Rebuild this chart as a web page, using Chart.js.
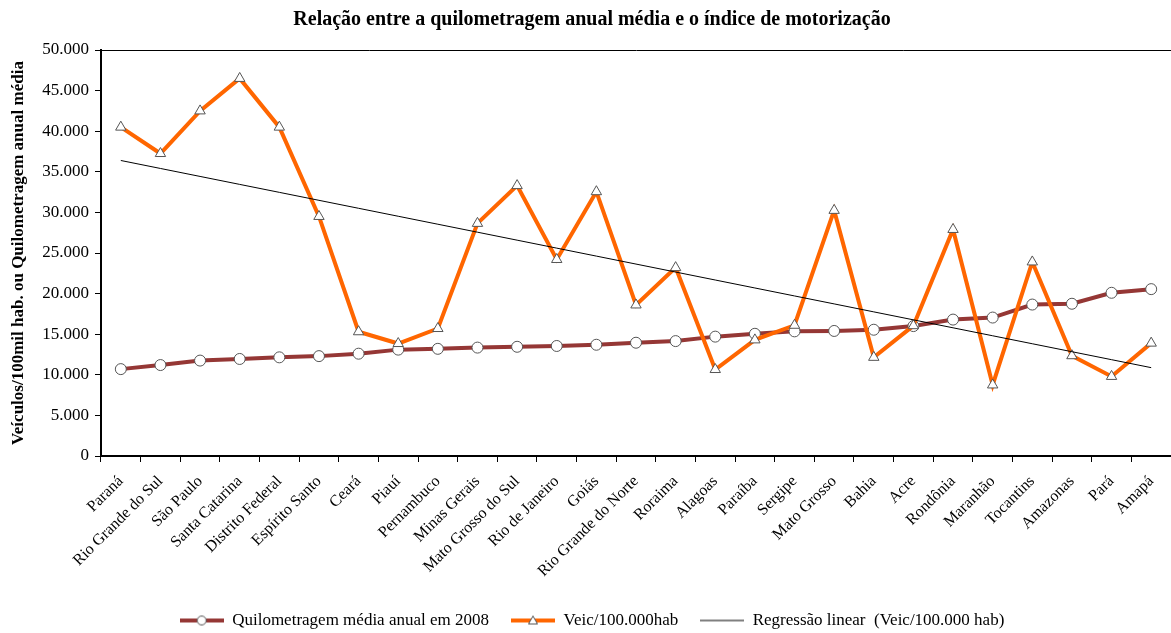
<!DOCTYPE html>
<html lang="pt-BR">
<head>
    <meta charset="UTF-8">
    <title>Quilometragem anual média e índice de motorização</title>
    <script src="https://cdn.jsdelivr.net/npm/chart.js"></script>
    <style>
        body {
            margin: 0;
            padding: 0;
            background: #fff;
        }
        .chart-box {
            width: 1171px;
            height: 633px;
            position: relative;
        }
    </style>
</head>
<body>
    <div class="chart-box">
        <canvas id="kmChart"></canvas>
    </div>

    <script>
        // Estados ordenados pela quilometragem média anual
        const estados = [
            "Paraná", "Rio Grande do Sul", "São Paulo", "Santa Catarina", "Distrito Federal",
            "Espírito Santo", "Ceará", "Piauí", "Pernambuco", "Minas Gerais",
            "Mato Grosso do Sul", "Rio de Janeiro", "Goiás", "Rio Grande do Norte", "Roraima",
            "Alagoas", "Paraíba", "Sergipe", "Mato Grosso", "Bahia",
            "Acre", "Rondônia", "Maranhão", "Tocantins", "Amazonas",
            "Pará", "Amapá"
        ];

        // Quilometragem média anual em 2008
        const quilometragem = [
            10700, 11200, 11750, 11950, 12150,
            12300, 12600, 13100, 13200, 13350,
            13450, 13550, 13700, 13950, 14150,
            14700, 15050, 15350, 15400, 15550,
            16000, 16800, 17050, 18650, 18750,
            20100, 20550
        ];

        // Veículos por 100.000 habitantes
        const veiculos = [
            40500, 37250, 42500, 46500, 40500,
            29500, 15300, 13850, 15700, 28650,
            33300, 24200, 32550, 18600, 23200,
            10650, 14300, 16100, 30250, 12150,
            16050, 27900, 8750, 23900, 12350,
            9800, 13900
        ];

        const yTicks = [0, 5000, 10000, 15000, 20000, 25000, 30000, 35000, 40000, 45000, 50000];

        // Regressão linear (mínimos quadrados) de veículos por 100.000 hab
        function regressao(ys) {
            const n = ys.length;
            const mx = (n - 1) / 2;
            const my = ys.reduce((a, b) => a + b, 0) / n;
            let sxy = 0, sxx = 0;
            ys.forEach((y, i) => {
                sxy += (i - mx) * (y - my);
                sxx += (i - mx) * (i - mx);
            });
            const b = sxy / sxx;
            return ys.map((_, i) => my + b * (i - mx));
        }
        const tendencia = regressao(veiculos);

        const fmt = v => String(v).replace(/\B(?=(\d{3})+(?!\d))/g, ".");
        const serif = "'Liberation Serif', 'Times New Roman', serif";

        // Símbolo da legenda: linha com marcador no meio
        function simbolo(cor, largura, marcador) {
            const c = document.createElement("canvas");
            c.width = 44;
            c.height = 14;
            const g = c.getContext("2d");
            g.strokeStyle = cor;
            g.lineWidth = largura;
            g.beginPath();
            g.moveTo(0, 7);
            g.lineTo(44, 7);
            g.stroke();
            g.fillStyle = "#fff";
            g.strokeStyle = "#555";
            g.lineWidth = 1;
            if (marcador === "circle") {
                g.beginPath();
                g.arc(22, 7, 4.5, 0, Math.PI * 2);
                g.fill();
                g.stroke();
            } else if (marcador === "triangle") {
                g.beginPath();
                g.moveTo(22, 2.5);
                g.lineTo(26.5, 10.5);
                g.lineTo(17.5, 10.5);
                g.closePath();
                g.fill();
                g.stroke();
            }
            return c;
        }

        const ctx = document.getElementById("kmChart").getContext("2d");
        new Chart(ctx, {
            type: "line",
            data: {
                labels: estados,
                datasets: [
                    {
                        label: "Quilometragem média anual em 2008",
                        data: quilometragem,
                        borderColor: "#953735",
                        borderWidth: 4,
                        pointStyle: "circle",
                        pointRadius: 5.5,
                        pointBackgroundColor: "#fff",
                        pointBorderColor: "#555",
                        pointBorderWidth: 1,
                        order: 3,
                        legendIcon: simbolo("#953735", 4, "circle")
                    },
                    {
                        label: "Veic/100.000hab",
                        data: veiculos,
                        borderColor: "#ff6600",
                        borderWidth: 4,
                        pointStyle: "triangle",
                        pointRadius: 6,
                        pointBackgroundColor: "#fff",
                        pointBorderColor: "#555",
                        pointBorderWidth: 1,
                        order: 2,
                        legendIcon: simbolo("#ff6600", 4, "triangle")
                    },
                    {
                        label: "Regressão linear  (Veic/100.000 hab)",
                        data: tendencia,
                        borderColor: "#000",
                        borderWidth: 1,
                        pointRadius: 0,
                        order: 1,
                        legendIcon: simbolo("#000", 1, null)
                    }
                ]
            },
            options: {
                responsive: true,
                maintainAspectRatio: false,
                animation: false,
                layout: {
                    autoPadding: false,
                    padding: { left: 8, right: -5, top: 0, bottom: -6 }
                },
                elements: { line: { tension: 0 } },
                plugins: {
                    title: {
                        display: true,
                        text: "Relação entre a quilometragem anual média e o índice de motorização",
                        color: "#000",
                        font: { family: serif, size: 20, weight: "bold" },
                        padding: { top: 8, bottom: 18 }
                    },
                    legend: {
                        position: "bottom",
                        labels: {
                            color: "#000",
                            font: { family: serif, size: 17 },
                            usePointStyle: true,
                            pointStyleWidth: 44,
                            padding: 22,
                            generateLabels: chart => chart.data.datasets.map((ds, i) => ({
                                text: ds.label,
                                pointStyle: ds.legendIcon,
                                datasetIndex: i,
                                lineWidth: 0,
                                fontColor: "#000"
                            }))
                        }
                    },
                    tooltip: { enabled: false }
                },
                scales: {
                    x: {
                        offset: true,
                        border: { display: true, color: "#000", width: 2 },
                        grid: {
                            offset: true,
                            drawOnChartArea: false,
                            tickLength: 6,
                            tickColor: "#000",
                            tickWidth: 1
                        },
                        ticks: {
                            color: "#000",
                            font: { family: serif, size: 16 },
                            maxRotation: 45,
                            minRotation: 45,
                            autoSkip: false,
                            padding: 10
                        },
                        afterFit: s => {
                            s.height = 134;
                            s.paddingRight = 0;
                        }
                    },
                    y: {
                        min: 0,
                        max: 50000,
                        border: { display: true, color: "#000", width: 2 },
                        grid: {
                            color: c => (c.tick && c.tick.value === 50000 ? "#000" : "rgba(0,0,0,0)"),
                            lineWidth: 1,
                            tickLength: 6,
                            tickColor: "#000"
                        },
                        afterBuildTicks: s => { s.ticks = yTicks.map(v => ({ value: v })); },
                        ticks: {
                            color: "#000",
                            font: { family: serif, size: 17 },
                            padding: 6,
                            callback: v => fmt(v)
                        },
                        title: {
                            display: true,
                            text: "Veículos/100mil hab. ou Quilometragem anual média",
                            color: "#000",
                            font: { family: serif, size: 17, weight: "bold" },
                            padding: { top: 0, bottom: 0 }
                        },
                        afterFit: s => { s.width = 93; }
                    }
                }
            }
        });
    </script>
</body>
</html>
